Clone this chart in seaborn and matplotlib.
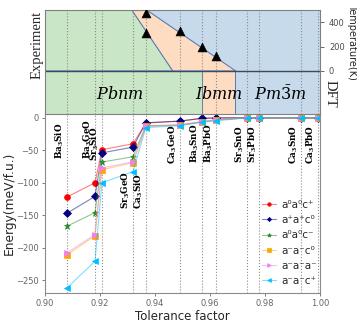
import numpy as np
import pandas as pd
import matplotlib
matplotlib.use("Agg")
import matplotlib.pyplot as plt
import matplotlib.colors as mcolors
import seaborn as sns

# ---------------- data ----------------
compounds = ["Ba_3SiO", "Ba_3GeO", "Sr_3SiO", "Sr_3GeO", "Ca_3SiO", "Ca_3GeO",
             "Ba_3SnO", "Ba_3PbO", "Sr_3SnO", "Sr_3PbO", "Ca_3SnO", "Ca_3PbO"]
tolerance = [0.908, 0.9182, 0.9207, 0.932, 0.9367, 0.949,
             0.9571, 0.9622, 0.9735, 0.978, 0.993, 0.9993]

series_labels = ["a⁰a⁰c⁺", "a⁺a⁺c⁰", "a⁰a⁰c⁻", "a⁻a⁻c⁰", "a⁻a⁻a⁻", "a⁻a⁻c⁺"]
e_a0a0cp = [-122, -100, -49, -40, -8, -5, -1, 0, 0, 0, 0, 0]
e_apapc0 = [-147, -121, -54, -45, -7.5, -5, -0.5, 0, 0, 0, 0, 0]
e_a0a0cm = [-167, -146, -68, -60, -12, -11, -6, -3, 0, 0, 0, 0]
e_amamc0 = [-211, -182, -80, -69, -13, -11, -6, -3, 0, 0, 0, 0]
e_amamam = [-208, -180, -77, -68, -13, -11, -6, -3, 0, 0, 0, 0]
e_amamcp = [-262, -221, -100, -83, -15, -12, -7, -4.5, 0, 0, 0, 0]
energies = [e_a0a0cp, e_apapc0, e_a0a0cm, e_amamc0, e_amamam, e_amamcp]

# experimental transition temperatures (K)
exp_t = [0.9367, 0.9367, 0.949, 0.9571, 0.9622]
exp_T = [477, 310, 327, 196, 122]
# experimental phase boundaries (tolerance at T=500 and T=0)
bound_T = [500, 0]
exp_pbnm_ibmm = [0.9316, 0.9465]
exp_ibmm_pm3m = [0.9371, 0.9695]
# DFT phase boundaries
dft_pbnm_ibmm = 0.9571
dft_ibmm_pm3m = 0.969

phase_names = [r"$Pbnm$", r"$Ibmm$", r"$Pm\bar{3}m$"]

# ---------------- style ----------------
sns.set_style("white")
plt.rcParams["font.family"] = ["DejaVu Sans"]
plt.rcParams["mathtext.fontset"] = "dejavuserif"

colors = ["red", "navy", "forestgreen", "orange", "violet", "deepskyblue"]
markers = ["o", "D", "*", "s", ">", "<"]
msizes = [4.2, 3.6, 4.8, 4.2, 4.6, 4.6]

fig = plt.figure(figsize=(3.57, 3.22), dpi=100)
ax = fig.add_axes([0.126, 0.090, 0.770, 0.556])
axt = fig.add_axes([0.126, 0.646, 0.770, 0.323])

# ---------------- bottom panel ----------------
for t in tolerance:
    ax.axvline(t, color="0.55", ls=":", lw=0.8, zorder=0)

for lab, e, c, m, ms in zip(series_labels, energies, colors, markers, msizes):
    df = pd.DataFrame({"t": tolerance, "E": e})
    rgba = mcolors.to_rgba(c, 0.5)
    sns.lineplot(data=df, x="t", y="E", ax=ax, color=rgba, lw=0.8,
                 marker=m, markersize=ms, markerfacecolor=c,
                 markeredgecolor=c, markeredgewidth=0.5, label=lab,
                 sort=False, legend=False)

label_y = [-64, -64, -67, -141, -141, -71, -69, -69, -69, -69, -71, -71]
for name, t, yy in zip(compounds, tolerance, label_y):
    ax.text(t - 0.0003, yy, r"$\mathbf{" + name + "}$", rotation=90,
            ha="right", va="bottom", fontsize=6.3, color="black")

ax.set_xlim(0.90, 1.00)
ax.set_ylim(-270, 6)
ax.set_xticks([0.90, 0.92, 0.94, 0.96, 0.98, 1.00])
ax.set_xticklabels(["0.90", "0.92", "0.94", "0.96", "0.98", "1.00"])
ax.set_yticks([0, -50, -100, -150, -200, -250])
ax.tick_params(axis="both", labelsize=6, colors="0.4", length=2.5, width=0.6,
               direction="out", left=True, bottom=True, pad=2)
for s in ["left", "bottom", "right"]:
    ax.spines[s].set_color("0.55")
    ax.spines[s].set_linewidth(0.8)
ax.spines["top"].set_visible(False)
ax.set_xlabel("Tolerance factor", fontsize=8.5, labelpad=1)
ax.set_ylabel("Energy(meV/f.u.)", fontsize=8.8, labelpad=0)

leg = ax.legend(loc="upper left", bbox_to_anchor=(0.765, 0.555), frameon=False,
                fontsize=7.5, handlelength=1.4, handletextpad=0.5,
                labelspacing=0.5, borderpad=0.1, markerscale=0.6)

# ---------------- top panel ----------------
green = "#c9e6c6"
orange = "#fddcc1"
blue = "#c6daec"
edge = "#5a7bb0"
top_T, bot_T = 500, -354

axt.fill([0.90, 0.90, exp_pbnm_ibmm[0], exp_pbnm_ibmm[1]],
         [0, top_T, bound_T[0], bound_T[1]], color=green, ec=edge, lw=0.7)
axt.fill([exp_pbnm_ibmm[0], exp_ibmm_pm3m[0], exp_ibmm_pm3m[1], exp_pbnm_ibmm[1]],
         [bound_T[0], bound_T[0], bound_T[1], bound_T[1]], color=orange, ec=edge, lw=0.7)
axt.fill([exp_ibmm_pm3m[0], 1.0, 1.0, exp_ibmm_pm3m[1]],
         [bound_T[0], top_T, 0, bound_T[1]], color=blue, ec=edge, lw=0.7)
axt.fill([0.90, dft_pbnm_ibmm, dft_pbnm_ibmm, 0.90],
         [0, 0, bot_T, bot_T], color=green, ec=edge, lw=0.7)
axt.fill([dft_pbnm_ibmm, dft_ibmm_pm3m, dft_ibmm_pm3m, dft_pbnm_ibmm],
         [0, 0, bot_T, bot_T], color=orange, ec=edge, lw=0.7)
axt.fill([dft_ibmm_pm3m, 1.0, 1.0, dft_ibmm_pm3m],
         [0, 0, bot_T, bot_T], color=blue, ec=edge, lw=0.7)
axt.axhline(0, color="#3c4a5c", lw=1.0)

for t in tolerance:
    axt.axvline(t, color="0.55", ls=":", lw=0.8, zorder=2)

sns.scatterplot(x=exp_t, y=exp_T, ax=axt, marker="^", color="black", s=40,
                edgecolor="black", zorder=5, legend=False)

phase_x = [0.9273, 0.9633, 0.9855]
for name, px in zip(phase_names, phase_x):
    axt.text(px, -185, name, fontsize=11.5, ha="center", va="center", color="black")

axt.set_xlim(0.90, 1.00)
axt.set_ylim(bot_T, top_T)
axt.set_xticks([])
axt.yaxis.tick_right()
axt.set_yticks([0, 200, 400])
axt.tick_params(axis="y", labelsize=6, colors="0.3", length=3, width=0.6,
                direction="out", right=True, left=False)
for s in axt.spines.values():
    s.set_color("0.5")
    s.set_linewidth(0.8)

fig.text(0.105, 0.86, "Experiment", rotation=90, ha="center", va="center",
         fontsize=10.5, family=["Liberation Serif"])
fig.text(0.925, 0.71, "DFT", rotation=270, ha="center", va="center",
         fontsize=10.5, family=["Liberation Serif"])
fig.text(0.985, 0.87, "Temperature(K)", rotation=270, ha="center", va="center",
         fontsize=7)

fig.savefig("out.png", dpi=100)
